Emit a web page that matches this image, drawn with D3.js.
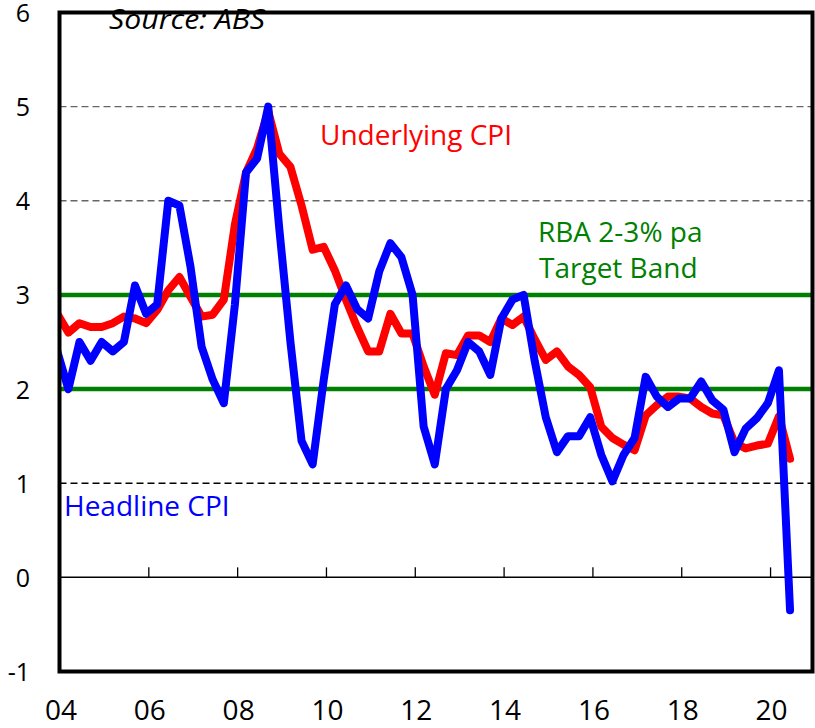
<!DOCTYPE html>
<html>
<head>
<meta charset="utf-8">
<script src="https://cdn.jsdelivr.net/npm/d3@7"></script>
<style>
  html, body { margin: 0; padding: 0; background: #fff; }
  svg { display: block; }
  text { font-family: "Open Sans", "Noto Sans", sans-serif; }
</style>
</head>
<body>
<svg id="chart" width="815" height="728"></svg>
<script>
// ---- Data (year-ended % change, quarterly) ----
const quarters = [
  "2003-Q4",
  "2004-Q1","2004-Q2","2004-Q3","2004-Q4",
  "2005-Q1","2005-Q2","2005-Q3","2005-Q4",
  "2006-Q1","2006-Q2","2006-Q3","2006-Q4",
  "2007-Q1","2007-Q2","2007-Q3","2007-Q4",
  "2008-Q1","2008-Q2","2008-Q3","2008-Q4",
  "2009-Q1","2009-Q2","2009-Q3","2009-Q4",
  "2010-Q1","2010-Q2","2010-Q3","2010-Q4",
  "2011-Q1","2011-Q2","2011-Q3","2011-Q4",
  "2012-Q1","2012-Q2","2012-Q3","2012-Q4",
  "2013-Q1","2013-Q2","2013-Q3","2013-Q4",
  "2014-Q1","2014-Q2","2014-Q3","2014-Q4",
  "2015-Q1","2015-Q2","2015-Q3","2015-Q4",
  "2016-Q1","2016-Q2","2016-Q3","2016-Q4",
  "2017-Q1","2017-Q2","2017-Q3","2017-Q4",
  "2018-Q1","2018-Q2","2018-Q3","2018-Q4",
  "2019-Q1","2019-Q2","2019-Q3","2019-Q4",
  "2020-Q1","2020-Q2"
];

const headlineCPI = [
  2.4,
  2.0, 2.5, 2.3, 2.5,
  2.4, 2.5, 3.1, 2.8,
  2.9, 4.0, 3.95, 3.3,
  2.45, 2.1, 1.85, 2.9,
  4.3, 4.45, 5.0, 3.7,
  2.5, 1.45, 1.2, 2.1,
  2.9, 3.1, 2.85, 2.75,
  3.25, 3.55, 3.4, 3.0,
  1.6, 1.2, 2.0, 2.2,
  2.5, 2.4, 2.15, 2.75,
  2.95, 3.0, 2.3, 1.7,
  1.33, 1.5, 1.5, 1.7,
  1.3, 1.02, 1.3, 1.48,
  2.13, 1.92, 1.81, 1.9,
  1.9, 2.08, 1.88, 1.78,
  1.33, 1.58, 1.69, 1.85,
  2.2, -0.35
];

const underlyingCPI = [
  2.8,
  2.6, 2.7, 2.66, 2.66,
  2.7, 2.77, 2.75, 2.7,
  2.84, 3.05, 3.19, 2.98,
  2.77, 2.79, 2.95, 3.75,
  4.3, 4.56, 4.95, 4.5,
  4.36, 3.95, 3.48, 3.51,
  3.26, 2.95, 2.66, 2.4,
  2.4, 2.8, 2.59, 2.59,
  2.24, 1.94, 2.38, 2.36,
  2.57, 2.57, 2.5, 2.75,
  2.68, 2.77, 2.53, 2.31,
  2.4, 2.24, 2.15, 2.02,
  1.6, 1.48, 1.41, 1.35,
  1.72, 1.83, 1.92, 1.92,
  1.9, 1.81, 1.74, 1.72,
  1.43, 1.37, 1.4, 1.42,
  1.71, 1.26
];

const yTicks = [-1, 0, 1, 2, 3, 4, 5, 6];
const dashedGrid = [1, 4, 5];
const targetBand = [2, 3];
const xTickYears = [2004, 2006, 2008, 2010, 2012, 2014, 2016, 2018, 2020];
const xTickLabels = ["04", "06", "08", "10", "12", "14", "16", "18", "20"];

// ---- Layout ----
const svg = d3.select("#chart");
const pL = 59.5, pR = 812.5, pT = 12.5, pB = 671.5;

const x = d3.scaleLinear().domain([2004, 2021]).range([pL, pL + 17 * 44.41]);
const y = d3.scaleLinear().domain([-1, 6]).range([pB, pT]);

function qToYear(s) {
  const parts = s.split("-Q");
  return +parts[0] + (+parts[1] - 1) / 4 + 0.2;
}

svg.append("defs").append("clipPath").attr("id", "plotclip")
  .append("rect").attr("x", pL).attr("y", pT)
  .attr("width", pR - pL).attr("height", pB - pT);

// Dashed gridlines
svg.append("g").selectAll("line").data(dashedGrid).join("line")
  .attr("x1", pL).attr("x2", pR)
  .attr("y1", d => y(d)).attr("y2", d => y(d))
  .attr("stroke", d => d === 1 ? "#000" : "#666")
  .attr("stroke-width", 1.4)
  .attr("stroke-dasharray", "7,4");

// Target band lines
svg.append("g").selectAll("line").data(targetBand).join("line")
  .attr("x1", pL).attr("x2", pR)
  .attr("y1", d => y(d)).attr("y2", d => y(d))
  .attr("stroke", "#008000")
  .attr("stroke-width", 4.5);

// Zero axis with ticks
const xAxis = d3.axisTop(x).tickValues(xTickYears.slice(1)).tickSize(10).tickFormat("");
const gx = svg.append("g").attr("transform", `translate(0,${y(0)})`).call(xAxis);
gx.select(".domain").remove();
gx.selectAll(".tick line").attr("stroke", "#000").attr("stroke-width", 1.3);
svg.append("line")
  .attr("x1", pL).attr("x2", pR)
  .attr("y1", y(0)).attr("y2", y(0))
  .attr("stroke", "#000").attr("stroke-width", 1.5);

// Lines
const lineGen = d3.line()
  .x((d, i) => x(qToYear(quarters[i])))
  .y(d => y(d));

const plot = svg.append("g").attr("clip-path", "url(#plotclip)");
plot.append("path").datum(underlyingCPI)
  .attr("d", lineGen)
  .attr("fill", "none").attr("stroke", "#ff0000")
  .attr("stroke-width", 8).attr("stroke-linejoin", "round").attr("stroke-linecap", "round");
plot.append("path").datum(headlineCPI)
  .attr("d", lineGen)
  .attr("fill", "none").attr("stroke", "#0000ff")
  .attr("stroke-width", 8).attr("stroke-linejoin", "round").attr("stroke-linecap", "round");

// Source note (drawn under the frame, as in the reference)
svg.append("text").attr("x", 109).attr("y", 29)
  .attr("font-size", 28).attr("font-style", "italic").attr("fill", "#000")
  .attr("textLength", 156).attr("lengthAdjust", "spacingAndGlyphs")
  .text("Source: ABS");

// Frame
svg.append("rect")
  .attr("x", pL).attr("y", pT)
  .attr("width", pR - pL).attr("height", pB - pT)
  .attr("fill", "none").attr("stroke", "#000").attr("stroke-width", 4);

// Y axis labels
const yAxis = d3.axisLeft(y).tickValues(yTicks).tickSize(0).tickPadding(0).tickFormat(d => String(d));
const gy = svg.append("g").attr("transform", "translate(30,0)").call(yAxis);
gy.select(".domain").remove();
gy.selectAll("text")
  .attr("font-family", "Open Sans").attr("font-size", 25).attr("fill", "#000")
  .attr("dy", "0.36em");

// X axis labels
const xLab = d3.axisBottom(x).tickValues(xTickYears).tickSize(0).tickPadding(0)
  .tickFormat((d, i) => xTickLabels[i]);
const gxl = svg.append("g").attr("transform", "translate(1,700)").call(xLab);
gxl.select(".domain").remove();
gxl.selectAll("text")
  .attr("font-family", "Open Sans").attr("font-size", 28).attr("fill", "#000");

// Annotations
svg.append("text").attr("x", 320).attr("y", 145)
  .attr("font-size", 28).attr("fill", "#ff0000")
  .text("Underlying CPI");
svg.append("text").attr("x", 538).attr("y", 242)
  .attr("font-size", 28).attr("fill", "#008000")
  .text("RBA 2-3% pa");
svg.append("text").attr("x", 539).attr("y", 278)
  .attr("font-size", 28).attr("fill", "#008000")
  .text("Target Band");
svg.append("text").attr("x", 64).attr("y", 516)
  .attr("font-size", 28).attr("fill", "#0000ff")
  .text("Headline CPI");
</script>
</body>
</html>
